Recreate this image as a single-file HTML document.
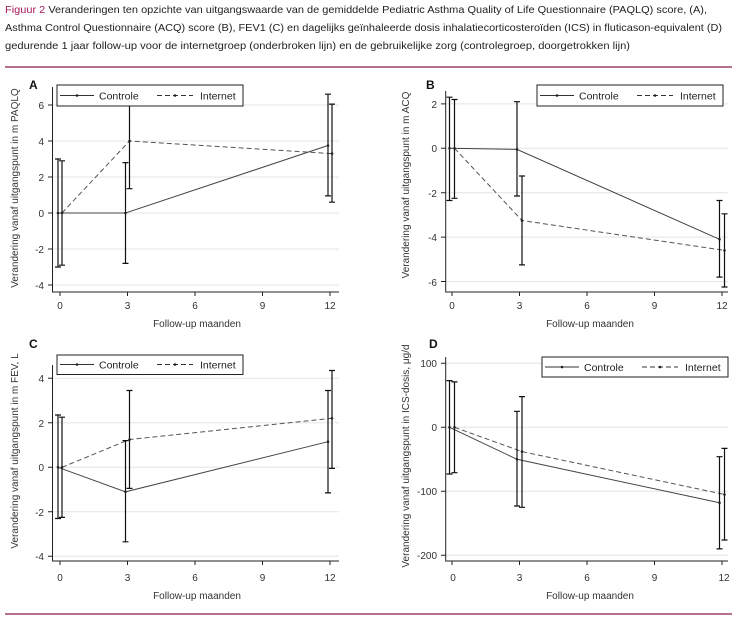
<!DOCTYPE html>
<html><head><meta charset="utf-8"><style>
body{margin:0;background:#fff}
svg{display:block;font-family:"Liberation Sans",sans-serif}
.t{font-size:10.5px;fill:#222}
.tk{font-size:10px;fill:#333}
.yt{font-size:10px;fill:#333}
.lg{font-size:10.5px;fill:#222}
.g{stroke:#e3e6e6;stroke-width:1}
.ax{stroke:#222;stroke-width:1;fill:none}
.c{stroke:#444;stroke-width:1;fill:none}
.i{stroke:#555;stroke-width:1;fill:none;stroke-dasharray:5,3}
.e{stroke:#111;stroke-width:1.2;fill:none}
.pl{font-size:12px;font-weight:bold;fill:#111}
</style></head><body>
<svg width="740" height="621" viewBox="0 0 740 621" xmlns="http://www.w3.org/2000/svg">
<text class="t" x="5" y="13" textLength="702" lengthAdjust="spacingAndGlyphs"><tspan fill="#a3185a">Figuur 2</tspan> Veranderingen ten opzichte van uitgangswaarde van de gemiddelde Pediatric Asthma Quality of Life Questionnaire (PAQLQ) score, (A),</text>
<text class="t" x="5" y="31" textLength="717" lengthAdjust="spacingAndGlyphs">Asthma Control Questionnaire (ACQ) score (B), FEV1 (C) en dagelijks geïnhaleerde dosis inhalatiecorticosteroïden (ICS) in fluticason-equivalent (D)</text>
<text class="t" x="5" y="49" textLength="625" lengthAdjust="spacingAndGlyphs">gedurende 1 jaar follow-up voor de internetgroep (onderbroken lijn) en de gebruikelijke zorg (controlegroep, doorgetrokken lijn)</text>
<line x1="5" y1="67" x2="732" y2="67" stroke="#8b1a4d" stroke-width="1.3"/>
<line x1="5" y1="614" x2="732" y2="614" stroke="#8b1a4d" stroke-width="1.3"/>

<!-- Panel A -->
<text class="pl" x="29" y="89">A</text>
<g class="g"><line x1="53" y1="105" x2="339" y2="105"/><line x1="53" y1="141" x2="339" y2="141"/><line x1="53" y1="177" x2="339" y2="177"/><line x1="53" y1="213" x2="339" y2="213"/><line x1="53" y1="249" x2="339" y2="249"/><line x1="53" y1="285" x2="339" y2="285"/></g>
<path class="ax" d="M52.5 87V292H339M48 105h4.5M48 141h4.5M48 177h4.5M48 213h4.5M48 249h4.5M48 285h4.5M60 292v4M127.5 292v4M195 292v4M262.5 292v4M330 292v4"/>
<g class="tk" text-anchor="end"><text x="44" y="109">6</text><text x="44" y="145">4</text><text x="44" y="181">2</text><text x="44" y="217">0</text><text x="44" y="253">-2</text><text x="44" y="289">-4</text></g>
<g class="tk" text-anchor="middle"><text x="60" y="309">0</text><text x="127.5" y="309">3</text><text x="195" y="309">6</text><text x="262.5" y="309">9</text><text x="330" y="309">12</text></g>
<text class="yt" x="197" y="327" text-anchor="middle">Follow-up maanden</text>
<text class="yt" transform="translate(18,188) rotate(-90)" text-anchor="middle">Verandering vanaf uitgangspunt in m PAQLQ</text>
<polyline class="c" points="58,213 125.5,213 328,145.5"/>
<polyline class="i" points="62,213 129.5,141 332,153.6"/>
<path class="e" d="M58 159V267M55 159h6M55 267h6M62 160.8V265.2M59 160.8h6M59 265.2h6M125.5 162.6V263.4M122.5 162.6h6M122.5 263.4h6M129.5 87V188.7M126.5 188.7h6M328 94.2V195.9M325 94.2h6M325 195.9h6M332 104.1V202.2M329 104.1h6M329 202.2h6"/>
<g fill="#222"><circle cx="58" cy="213" r="1.3"/><circle cx="125.5" cy="213" r="1.3"/><circle cx="328" cy="145.5" r="1.3"/><circle cx="62" cy="213" r="1.3"/><circle cx="129.5" cy="141" r="1.3"/><circle cx="332" cy="153.6" r="1.3"/></g>
<g transform="translate(57,85)"><rect x="0" y="0" width="186" height="21" fill="#fff" stroke="#222"/><line x1="3" y1="10.5" x2="37" y2="10.5" stroke="#333"/><circle cx="20" cy="10.5" r="1.3" fill="#222"/><text class="lg" x="42" y="14.5">Controle</text><line x1="100" y1="10.5" x2="136" y2="10.5" stroke="#333" stroke-dasharray="5,3"/><circle cx="118" cy="10.5" r="1.3" fill="#222"/><text class="lg" x="143" y="14.5">Internet</text></g>

<!-- Panel B -->
<text class="pl" x="426" y="89">B</text>
<g class="g"><line x1="446" y1="103.9" x2="728" y2="103.9"/><line x1="446" y1="148.3" x2="728" y2="148.3"/><line x1="446" y1="192.7" x2="728" y2="192.7"/><line x1="446" y1="237.1" x2="728" y2="237.1"/><line x1="446" y1="281.5" x2="728" y2="281.5"/></g>
<path class="ax" d="M445.7 91V292H728M441 103.9h4.7M441 148.3h4.7M441 192.7h4.7M441 237.1h4.7M441 281.5h4.7M452 292v4M519.5 292v4M587 292v4M654.5 292v4M722 292v4"/>
<g class="tk" text-anchor="end"><text x="437" y="108">2</text><text x="437" y="152">0</text><text x="437" y="197">-2</text><text x="437" y="241">-4</text><text x="437" y="286">-6</text></g>
<g class="tk" text-anchor="middle"><text x="452" y="309">0</text><text x="519.5" y="309">3</text><text x="587" y="309">6</text><text x="654.5" y="309">9</text><text x="722" y="309">12</text></g>
<text class="yt" x="590" y="327" text-anchor="middle">Follow-up maanden</text>
<text class="yt" transform="translate(409,185) rotate(-90)" text-anchor="middle">Verandering vanaf uitgangspunt in m ACQ</text>
<polyline class="c" points="449.5,148.3 517,149.4 719.5,239.3"/>
<polyline class="i" points="454.5,148.3 522,220.5 724.5,250.4"/>
<path class="e" d="M449.5 97.2V200.5M446.5 97.2h6M446.5 200.5h6M454.5 99.5V198.3M451.5 99.5h6M451.5 198.3h6M517 101.7V196M514 101.7h6M514 196h6M522 176V264.9M519 176h6M519 264.9h6M719.5 200.5V277.1M716.5 200.5h6M716.5 277.1h6M724.5 213.8V287M721.5 213.8h6M721.5 287h6"/>
<g fill="#222"><circle cx="449.5" cy="148.3" r="1.3"/><circle cx="517" cy="149.4" r="1.3"/><circle cx="719.5" cy="239.3" r="1.3"/><circle cx="454.5" cy="148.3" r="1.3"/><circle cx="522" cy="220.5" r="1.3"/><circle cx="724.5" cy="250.4" r="1.3"/></g>
<g transform="translate(537,85)"><rect x="0" y="0" width="186" height="21" fill="#fff" stroke="#222"/><line x1="3" y1="10.5" x2="37" y2="10.5" stroke="#333"/><circle cx="20" cy="10.5" r="1.3" fill="#222"/><text class="lg" x="42" y="14.5">Controle</text><line x1="100" y1="10.5" x2="136" y2="10.5" stroke="#333" stroke-dasharray="5,3"/><circle cx="118" cy="10.5" r="1.3" fill="#222"/><text class="lg" x="143" y="14.5">Internet</text></g>

<!-- Panel C -->
<text class="pl" x="29" y="348">C</text>
<g class="g"><line x1="53" y1="378.3" x2="339" y2="378.3"/><line x1="53" y1="422.8" x2="339" y2="422.8"/><line x1="53" y1="467.3" x2="339" y2="467.3"/><line x1="53" y1="511.8" x2="339" y2="511.8"/><line x1="53" y1="556.3" x2="339" y2="556.3"/></g>
<path class="ax" d="M52.5 365V561H339M48 378.3h4.5M48 422.8h4.5M48 467.3h4.5M48 511.8h4.5M48 556.3h4.5M60 561v4M127.5 561v4M195 561v4M262.5 561v4M330 561v4"/>
<g class="tk" text-anchor="end"><text x="44" y="382">4</text><text x="44" y="427">2</text><text x="44" y="471">0</text><text x="44" y="516">-2</text><text x="44" y="560">-4</text></g>
<g class="tk" text-anchor="middle"><text x="60" y="581">0</text><text x="127.5" y="581">3</text><text x="195" y="581">6</text><text x="262.5" y="581">9</text><text x="330" y="581">12</text></g>
<text class="yt" x="197" y="599" text-anchor="middle">Follow-up maanden</text>
<text class="yt" transform="translate(18,451) rotate(-90)" text-anchor="middle">Verandering vanaf uitgangspunt in m FEV, L</text>
<polyline class="c" points="58,467.3 125.5,491.8 328,441.7"/>
<polyline class="i" points="62,467.3 129.5,439.5 332,418.3"/>
<path class="e" d="M58 415V518.5M55 415h6M55 518.5h6M62 417.2V517.4M59 417.2h6M59 517.4h6M125.5 440.6V541.8M122.5 440.6h6M122.5 541.8h6M129.5 390.5V488.4M126.5 390.5h6M126.5 488.4h6M328 390.5V492.9M325 390.5h6M325 492.9h6M332 370.5V468.4M329 370.5h6M329 468.4h6"/>
<g fill="#222"><circle cx="58" cy="467.3" r="1.3"/><circle cx="125.5" cy="491.8" r="1.3"/><circle cx="328" cy="441.7" r="1.3"/><circle cx="62" cy="467.3" r="1.3"/><circle cx="129.5" cy="439.5" r="1.3"/><circle cx="332" cy="418.3" r="1.3"/></g>
<g transform="translate(57,355)"><rect x="0" y="0" width="186" height="19.5" fill="#fff" stroke="#222"/><line x1="3" y1="9.5" x2="37" y2="9.5" stroke="#333"/><circle cx="20" cy="9.5" r="1.3" fill="#222"/><text class="lg" x="42" y="13.5">Controle</text><line x1="100" y1="9.5" x2="136" y2="9.5" stroke="#333" stroke-dasharray="5,3"/><circle cx="118" cy="9.5" r="1.3" fill="#222"/><text class="lg" x="143" y="13.5">Internet</text></g>

<!-- Panel D -->
<text class="pl" x="429" y="348">D</text>
<g class="g"><line x1="446" y1="363.3" x2="728" y2="363.3"/><line x1="446" y1="427.3" x2="728" y2="427.3"/><line x1="446" y1="491.3" x2="728" y2="491.3"/><line x1="446" y1="555.3" x2="728" y2="555.3"/></g>
<path class="ax" d="M445.7 357V561H728M441 363.3h4.7M441 427.3h4.7M441 491.3h4.7M441 555.3h4.7M452 561v4M519.5 561v4M587 561v4M654.5 561v4M722 561v4"/>
<g class="tk" text-anchor="end"><text x="437" y="367">100</text><text x="437" y="431">0</text><text x="437" y="495">-100</text><text x="437" y="559">-200</text></g>
<g class="tk" text-anchor="middle"><text x="453" y="581">0</text><text x="519.5" y="581">3</text><text x="587" y="581">6</text><text x="654.5" y="581">9</text><text x="724" y="581">12</text></g>
<text class="yt" x="590" y="599" text-anchor="middle">Follow-up maanden</text>
<text class="yt" transform="translate(409,456) rotate(-90)" text-anchor="middle">Verandering vanaf uitgangspunt in ICS-dosis, μg/d</text>
<polyline class="c" points="449.5,427.3 517,459.3 719.5,502.8"/>
<polyline class="i" points="454.5,427.3 522,451.6 724.5,494.5"/>
<path class="e" d="M449.5 380.6V474M446.5 380.6h6M446.5 474h6M454.5 381.9V472.7M451.5 381.9h6M451.5 472.7h6M517 411.3V506M514 411.3h6M514 506h6M522 396.6V507.3M519 396.6h6M519 507.3h6M719.5 456.7V548.9M716.5 456.7h6M716.5 548.9h6M724.5 448.4V540M721.5 448.4h6M721.5 540h6"/>
<g fill="#222"><circle cx="449.5" cy="427.3" r="1.3"/><circle cx="517" cy="459.3" r="1.3"/><circle cx="719.5" cy="502.8" r="1.3"/><circle cx="454.5" cy="427.3" r="1.3"/><circle cx="522" cy="451.6" r="1.3"/><circle cx="724.5" cy="494.5" r="1.3"/></g>
<g transform="translate(542,357)"><rect x="0" y="0" width="186" height="20" fill="#fff" stroke="#222"/><line x1="3" y1="10" x2="37" y2="10" stroke="#333"/><circle cx="20" cy="10" r="1.3" fill="#222"/><text class="lg" x="42" y="14">Controle</text><line x1="100" y1="10" x2="136" y2="10" stroke="#333" stroke-dasharray="5,3"/><circle cx="118" cy="10" r="1.3" fill="#222"/><text class="lg" x="143" y="14">Internet</text></g>
</svg>
</body></html>
